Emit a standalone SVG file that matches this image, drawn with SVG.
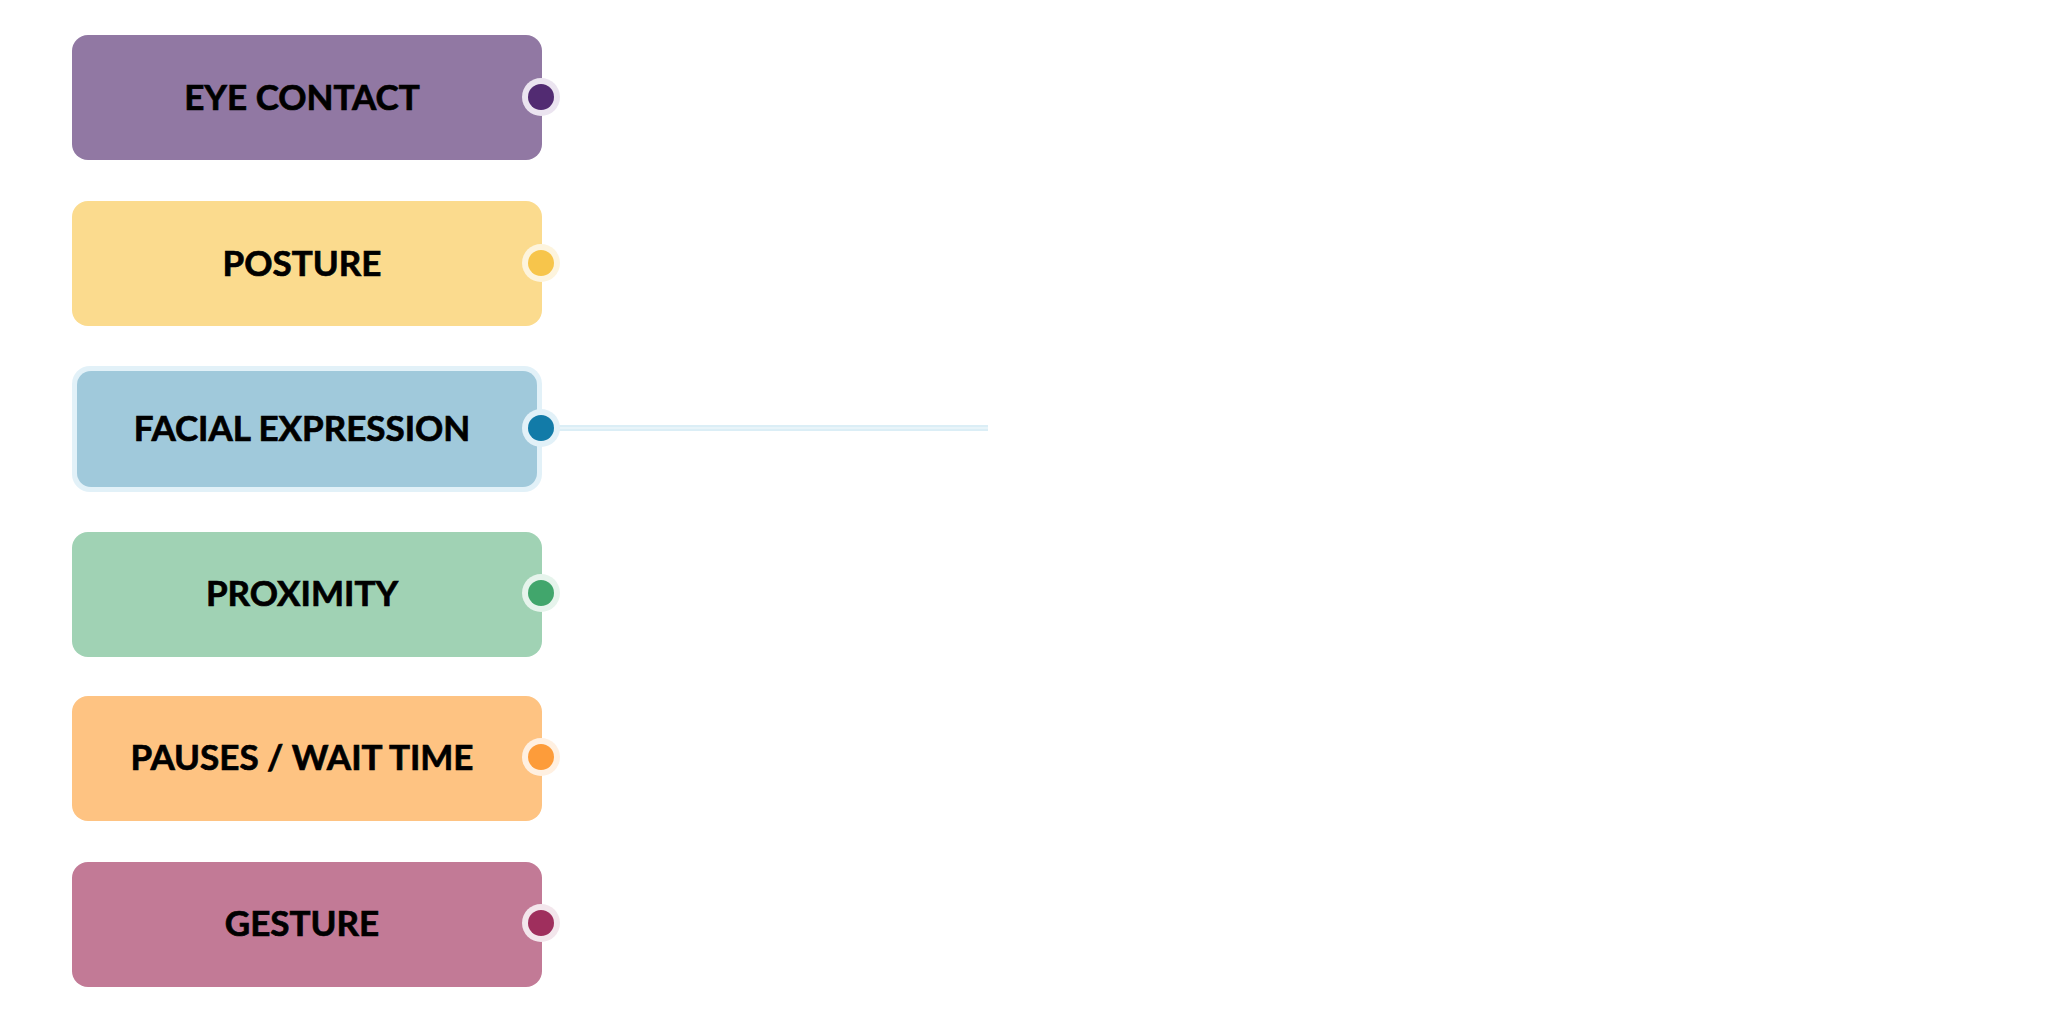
<svg xmlns="http://www.w3.org/2000/svg" width="2048" height="1024" viewBox="0 0 2048 1024">
<style>
.lbl{font-family:"Lato","Liberation Sans",sans-serif;font-weight:700;font-size:35px;fill:#000;stroke:#000;stroke-width:0.7px;text-anchor:middle}
</style>
<rect width="2048" height="1024" fill="#ffffff"/>
<g id="connectors">
<line x1="541" y1="428" x2="988" y2="428" stroke="#dbeef6" stroke-width="6"/>
<line x1="541" y1="428" x2="988" y2="428" stroke="#e8f4f9" stroke-width="2"/>
</g>
<g id="node-eye-contact">
<rect x="72" y="35" width="470" height="125" rx="16" fill="#9178a3"/>
<text class="lbl" x="302" y="110">EYE CONTACT</text>
<circle cx="541" cy="97" r="19" fill="#ebe4f0"/>
<circle cx="541" cy="97" r="13" fill="#522b72"/>
</g>
<g id="node-posture">
<rect x="72" y="201" width="470" height="125" rx="16" fill="#fbdb8e"/>
<text class="lbl" x="302" y="276">POSTURE</text>
<circle cx="541" cy="263" r="19" fill="#fdf4dd"/>
<circle cx="541" cy="263" r="13" fill="#f7c54b"/>
</g>
<g id="node-facial-expression">
<rect x="72" y="366" width="470" height="126" rx="18" fill="#e2f1f8"/>
<rect x="77" y="371" width="460" height="116" rx="14" fill="#a0c9db"/>
<text class="lbl" x="302" y="441">FACIAL EXPRESSION</text>
<circle cx="541" cy="428" r="19" fill="#e2f1f8"/>
<circle cx="541" cy="428" r="13" fill="#127ba8"/>
</g>
<g id="node-proximity">
<rect x="72" y="532" width="470" height="125" rx="16" fill="#a0d2b4"/>
<text class="lbl" x="302" y="606">PROXIMITY</text>
<circle cx="541" cy="593" r="19" fill="#e6f4ec"/>
<circle cx="541" cy="593" r="13" fill="#41a66c"/>
</g>
<g id="node-pauses">
<rect x="72" y="696" width="470" height="125" rx="16" fill="#fec382"/>
<text class="lbl" x="302" y="770">PAUSES / WAIT TIME</text>
<circle cx="541" cy="757" r="19" fill="#fff0e1"/>
<circle cx="541" cy="757" r="13" fill="#fd9c3a"/>
</g>
<g id="node-gesture">
<rect x="72" y="862" width="470" height="125" rx="16" fill="#c27a96"/>
<text class="lbl" x="302" y="936">GESTURE</text>
<circle cx="541" cy="923" r="19" fill="#f3e6ec"/>
<circle cx="541" cy="923" r="13" fill="#9f2f5d"/>
</g>
</svg>
